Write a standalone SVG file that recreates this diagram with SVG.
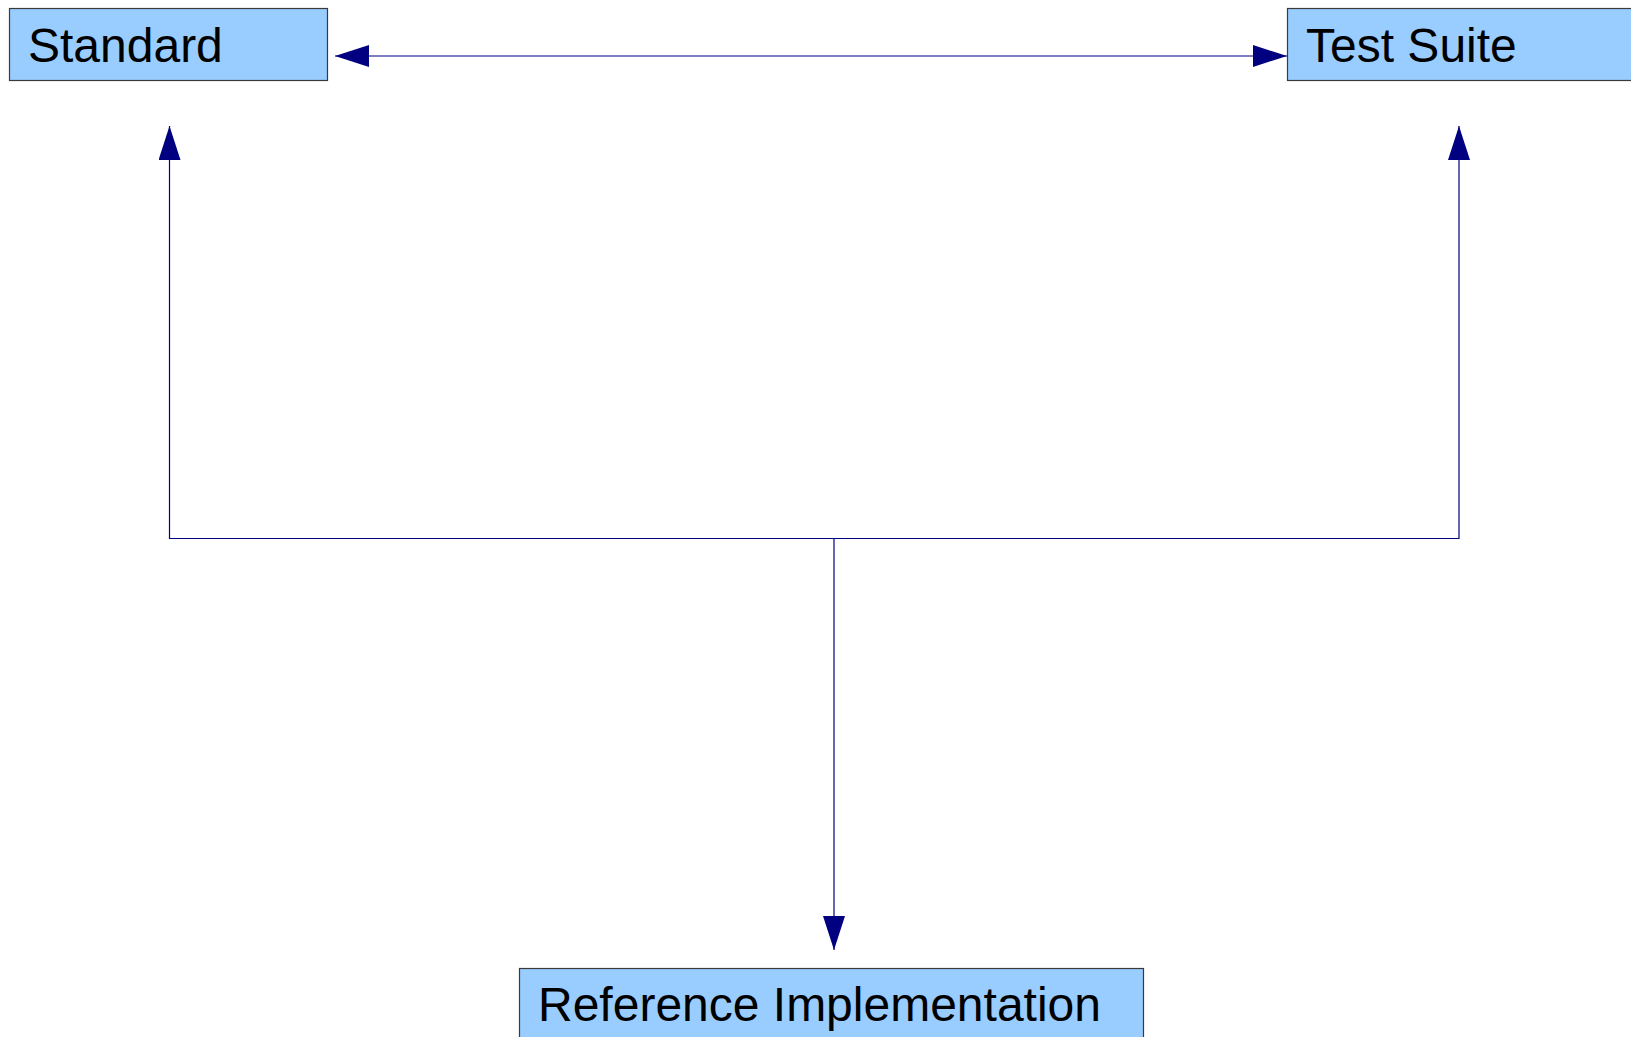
<svg xmlns="http://www.w3.org/2000/svg" width="1631" height="1037" viewBox="0 0 1631 1037">
  <style>
    .box { fill: #99ccff; stroke: #3a3a3a; stroke-width: 1.2; }
    .label { font-family: "Liberation Sans", Arial, sans-serif; font-size: 48px; fill: #000000; }
    .conn { fill: none; stroke: #000080; stroke-width: 1.2; }
  </style>
  <defs>
    <marker id="arrow" markerUnits="userSpaceOnUse" markerWidth="34" markerHeight="22" refX="34" refY="11" orient="auto-start-reverse" viewBox="0 0 34 22">
      <path d="M0,0 L34,11 L0,22 Z" fill="#000080"/>
    </marker>
  </defs>
  <rect width="1631" height="1037" fill="#ffffff"/>
  <g id="connectors">
    <path class="conn" d="M335,56 H1287" marker-start="url(#arrow)" marker-end="url(#arrow)"/>
    <path class="conn" d="M834,538.5 V950" marker-end="url(#arrow)"/>
    <path class="conn" d="M834,538.5 H169.5 V126" marker-end="url(#arrow)"/>
    <path class="conn" d="M834,538.5 H1459 V126" marker-end="url(#arrow)"/>
  </g>
  <g id="standard">
    <rect class="box" x="9.5" y="8.5" width="318" height="72"/>
    <text class="label" x="28" y="62">Standard</text>
  </g>
  <g id="test-suite">
    <rect class="box" x="1287.5" y="8.5" width="360" height="72"/>
    <text class="label" x="1306" y="62">Test Suite</text>
  </g>
  <g id="reference-implementation">
    <rect class="box" x="519.5" y="968.5" width="624" height="80"/>
    <text class="label" x="538" y="1021">Reference Implementation</text>
  </g>
</svg>
